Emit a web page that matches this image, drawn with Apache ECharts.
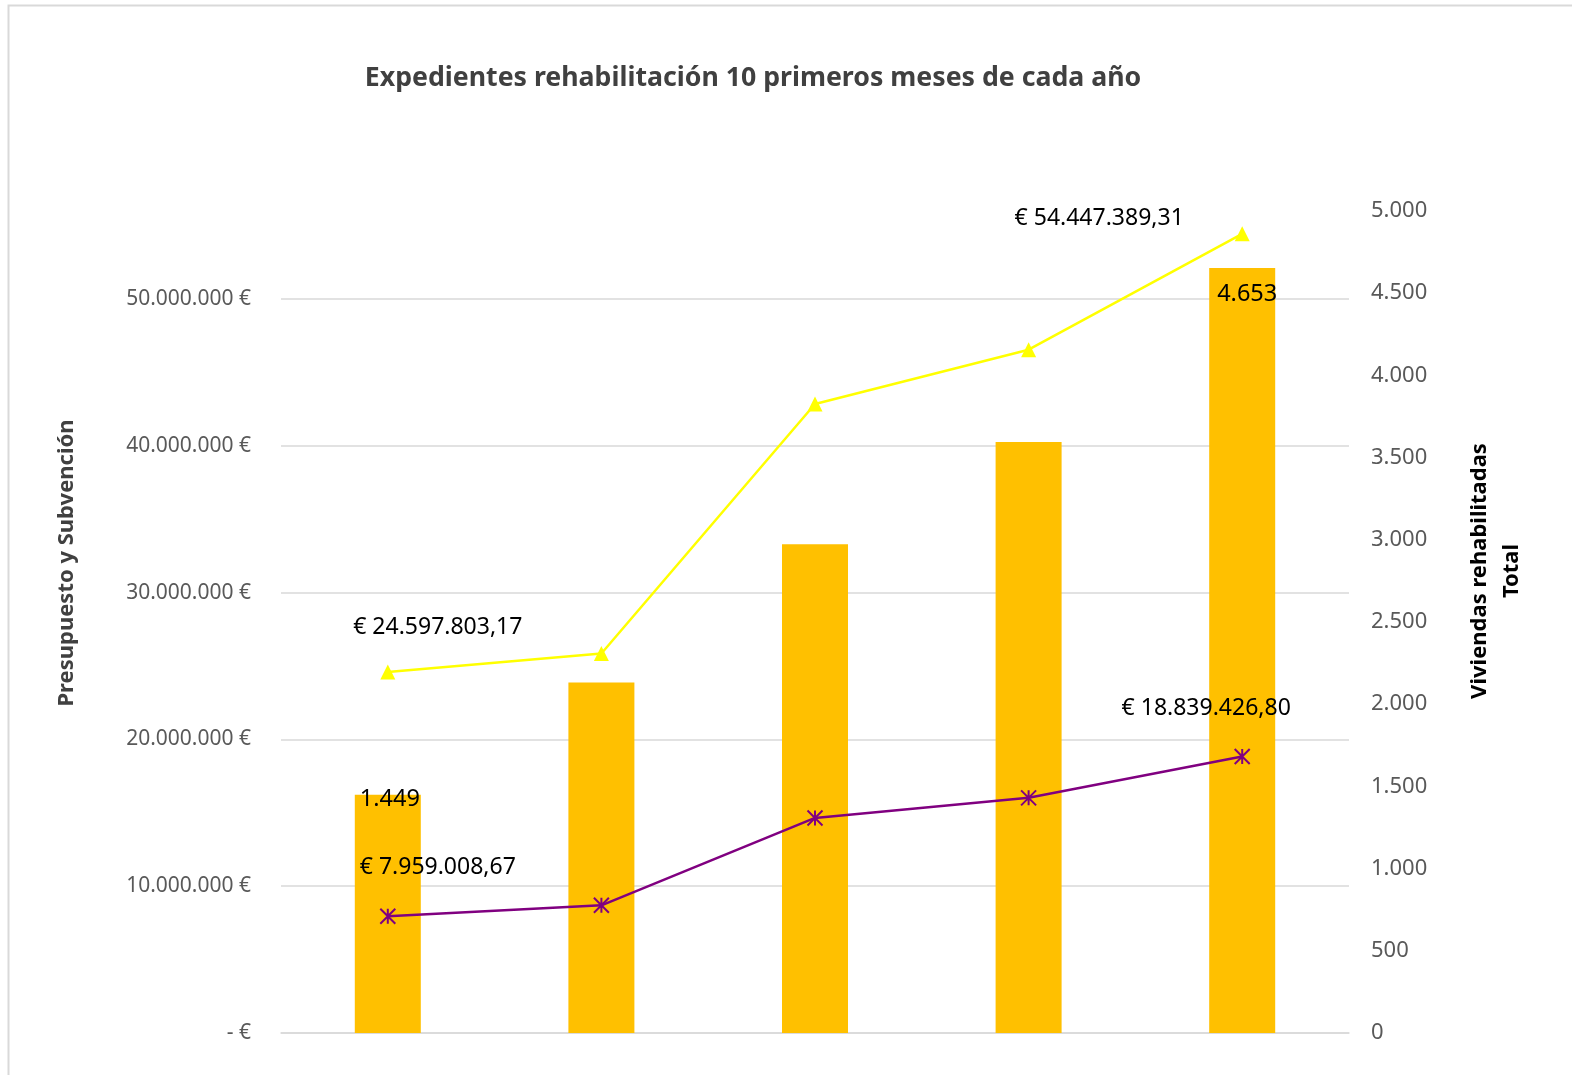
<!DOCTYPE html>
<html>
<head>
<meta charset="utf-8">
<script src="https://cdn.jsdelivr.net/npm/echarts@6/dist/echarts.min.js"></script>
<style>
html,body{margin:0;padding:0;background:#fff;}
#chart{width:1572px;height:1075px;}
</style>
</head>
<body>
<div id="chart"></div>
<script>
const categories = ["", "", "", "", ""];
const viviendas = [1449, 2132, 2973, 3595, 4653];
const presupuesto = [24597803.17, 25850000, 42850000, 46550000, 54447389.31];
const subvencion = [7959008.67, 8700000, 14650000, 16020000, 18839426.80];
const leftTicks = {min: 0, max: 56000000, interval: 10000000};
const rightTicks = {min: 0, max: 5000, interval: 500};

function group(intStr){
  return intStr.replace(/\B(?=(\d{3})+(?!\d))/g, '.');
}
function fmtInt(v){ return group(String(Math.round(v))); }
function fmtEuro(v){
  const parts = v.toFixed(2).split('.');
  return '€ ' + group(parts[0]) + ',' + parts[1];
}

const FONT = '"Noto Sans", "Open Sans", sans-serif';
const labelStyle = {fontFamily: FONT, fontSize: 23, color: '#000'};

const chart = echarts.init(document.getElementById('chart'), null, {renderer: 'canvas'});

const presData = presupuesto.map((v, i) => {
  const d = {value: v};
  if (i === 0) d.label = {show: true, position: 'top', offset: [50, -20]};
  if (i === presupuesto.length - 1) d.label = {show: true, position: 'top', offset: [-143, 9]};
  return d;
});
const subData = subvencion.map((v, i) => {
  const d = {value: v};
  if (i === 0) d.label = {show: true, position: 'top', offset: [50, -22]};
  if (i === subvencion.length - 1) d.label = {show: true, position: 'top', offset: [-36, -22]};
  return d;
});
const vivData = viviendas.map((v, i) => {
  const d = {value: v};
  if (i === 0) d.label = {show: true, position: 'insideTop', offset: [2, -12]};
  if (i === viviendas.length - 1) d.label = {show: true, position: 'insideTop', offset: [5, 9]};
  return d;
});

chart.setOption({
  animation: false,
  backgroundColor: '#fff',
  graphic: [{
    type: 'rect', left: 6, top: 3, z: -10, silent: true,
    shape: {width: 1600, height: 1100},
    style: {fill: 'none', stroke: '#d9d9d9', lineWidth: 2}
  }],
  title: {
    text: 'Expedientes rehabilitación 10 primeros meses de cada año',
    left: 748, top: 60, textAlign: 'center',
    textStyle: {fontFamily: FONT, fontSize: 26.7, fontWeight: 'bold', color: '#404040'}
  },
  grid: {left: 281, right: 223, top: 211, bottom: 42, containLabel: false},
  xAxis: {
    type: 'category', data: categories,
    axisLine: {show: true, lineStyle: {color: '#d9d9d9', width: 1.5}},
    axisTick: {show: false}, axisLabel: {show: false}, splitLine: {show: false}
  },
  yAxis: [{
    type: 'value', min: leftTicks.min, max: leftTicks.max, interval: leftTicks.interval,
    position: 'left',
    name: 'Presupuesto y Subvención', nameLocation: 'middle', nameGap: 203, nameRotate: 90,
    nameTextStyle: {fontFamily: FONT, fontSize: 22, fontWeight: 'bold', color: '#404040', padding: [0, 0, 0, 118]},
    axisLine: {show: false}, axisTick: {show: false},
    axisLabel: {
      margin: 30, showMaxLabel: false, fontFamily: FONT, fontSize: 21, color: '#595959',
      formatter: v => v === 0 ? '- €' : fmtInt(v) + ' €'
    },
    splitLine: {show: true, showMaxLine: false, lineStyle: {color: '#d9d9d9', width: 1.5}}
  }, {
    type: 'value', min: rightTicks.min, max: rightTicks.max, interval: rightTicks.interval,
    position: 'right',
    name: 'Viviendas rehabilitadas\nTotal', nameLocation: 'middle', nameGap: 115, nameRotate: 90,
    nameTextStyle: {fontFamily: FONT, fontSize: 22, fontWeight: 'bold', color: '#000', lineHeight: 32, padding: [0, 0, 0, 102]},
    axisLine: {show: false}, axisTick: {show: false},
    axisLabel: {margin: 22, fontFamily: FONT, fontSize: 22, color: '#595959', formatter: v => fmtInt(v)},
    splitLine: {show: false}
  }],
  series: [{
    name: 'Viviendas rehabilitadas Total', type: 'bar', yAxisIndex: 1,
    data: vivData, barWidth: 66,
    itemStyle: {color: '#FFC000'},
    label: Object.assign({show: false, formatter: p => fmtInt(p.value)}, labelStyle, {fontSize: 23.5})
  }, {
    name: 'Presupuesto', type: 'line', yAxisIndex: 0, data: presData,
    symbol: 'triangle', symbolSize: 15,
    lineStyle: {color: '#FFFF00', width: 2.5},
    itemStyle: {color: '#FFFF00'},
    label: Object.assign({show: false, formatter: p => fmtEuro(p.value)}, labelStyle),
    z: 5
  }, {
    name: 'Subvención', type: 'line', yAxisIndex: 0, data: subData,
    symbol: 'path://M0,0L10,10M10,0L0,10M5,0L5,10', symbolSize: 15,
    lineStyle: {color: '#800080', width: 2.5},
    itemStyle: {color: 'none', borderColor: '#800080', borderWidth: 2},
    label: Object.assign({show: false, formatter: p => fmtEuro(p.value)}, labelStyle),
    z: 5
  }]
});
</script>
</body>
</html>
